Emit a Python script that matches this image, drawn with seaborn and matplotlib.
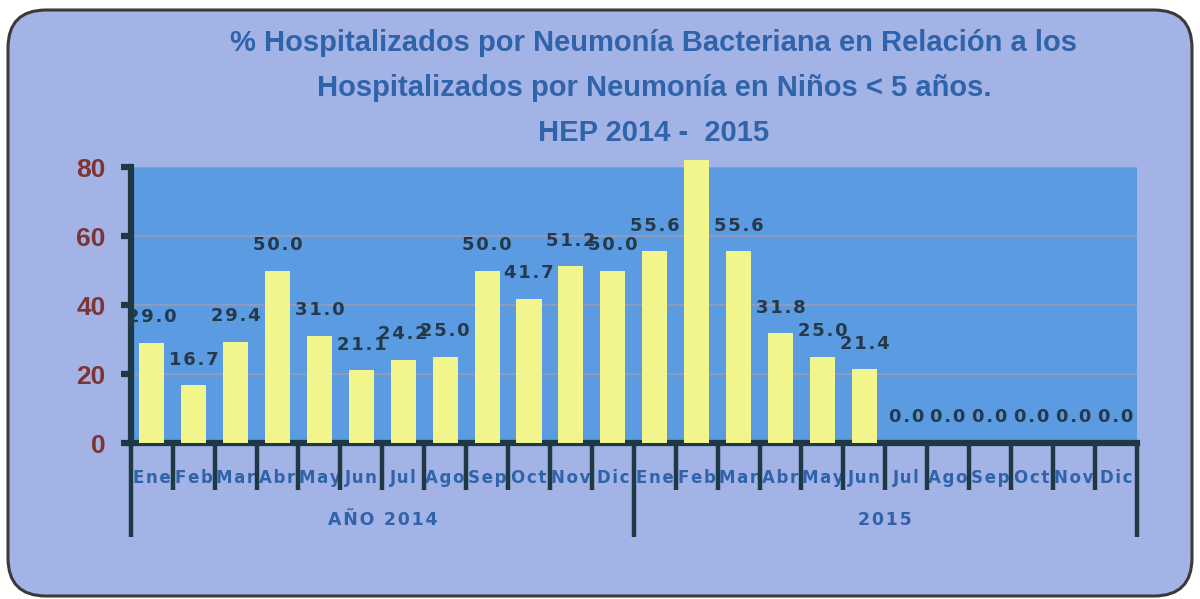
import numpy as np
import pandas as pd
import matplotlib
matplotlib.use("Agg")
import matplotlib.pyplot as plt
import matplotlib.transforms as mtransforms
from matplotlib.patches import FancyBboxPatch
import seaborn as sns

# ------------------------------------------------------------------
# Datos
# ------------------------------------------------------------------
meses = ["Ene", "Feb", "Mar", "Abr", "May", "Jun",
         "Jul", "Ago", "Sep", "Oct", "Nov", "Dic"]
anios = ["AÑO 2014", "2015"]
valores_2014 = [29.0, 16.7, 29.4, 50.0, 31.0, 21.1, 24.2, 25.0, 50.0, 41.7, 51.2, 50.0]
valores_2015 = [55.6, 82.0, 55.6, 31.8, 25.0, 21.4, 0.0, 0.0, 0.0, 0.0, 0.0, 0.0]
titulo = ["% Hospitalizados por Neumonía Bacteriana en Relación a los",
          "Hospitalizados por Neumonía en Niños < 5 años.",
          "HEP 2014 -  2015"]

df = pd.DataFrame({
    "mes": meses * 2,
    "anio": [anios[0]] * 12 + [anios[1]] * 12,
    "valor": valores_2014 + valores_2015,
})
df["clave"] = df["mes"] + " " + df["anio"]

# ------------------------------------------------------------------
# Estilo
# ------------------------------------------------------------------
sns.set_theme(style="white")
plt.rcParams["font.family"] = ["DejaVu Sans"]

FONDO = "#A4B3E6"
AZUL_PLOT = "#5A9BE2"
AMARILLO = "#F2F58C"
OSCURO = "#1E3844"
AZUL_TXT = "#2F63AA"
ROJO_TXT = "#7D3434"
SANS = ["Liberation Sans", "DejaVu Sans"]
ESPACIO = "\u200a"  # espaciado entre letras

def espaciar(txt):
    return ESPACIO.join(txt)

fig = plt.figure(figsize=(12, 5.99), dpi=100)
fig.patch.set_facecolor("white")

# marco redondeado de fondo (coordenadas en píxeles)
bg = fig.add_axes([0, 0, 1, 1], zorder=-10)
bg.set_xlim(0, 1200)
bg.set_ylim(0, 599)
bg.axis("off")
bg.add_patch(FancyBboxPatch((8, 3), 1184, 586,
                            boxstyle="round,pad=0,rounding_size=38",
                            facecolor=FONDO, edgecolor="#3A3A3A", lw=2.2))

ax = fig.add_axes([0.109, 0.2604, 0.8383, 0.4608])
ax.set_facecolor(AZUL_PLOT)

sns.barplot(data=df, x="clave", y="valor", color=AMARILLO, saturation=1,
            width=0.6, ax=ax, errorbar=None, zorder=3)
for p in ax.patches:
    p.set_clip_on(False)
    p.set_edgecolor("none")

ax.set_ylim(0, 80)
ax.set_xlim(-0.5, 23.5)
ax.set_yticks([0, 20, 40, 60, 80])
ax.yaxis.grid(True, color="#9C9CB4", lw=1.2, zorder=0)
ax.set_axisbelow(True)

# etiquetas de valor
for i, v in enumerate(df["valor"]):
    if v > 80:
        continue
    ax.annotate(espaciar(f"{v:.1f}"), (i, v), xytext=(0, 12), textcoords="offset points",
                ha="center", va="bottom", fontsize=13, fontweight="bold",
                color="#26394A", zorder=5, annotation_clip=False)

# ejes
for s in ["top", "right"]:
    ax.spines[s].set_visible(False)
for s in ["left", "bottom"]:
    ax.spines[s].set_linewidth(4.5)
    ax.spines[s].set_color(OSCURO)

ax.tick_params(axis="y", length=7, width=4.5, color=OSCURO, labelcolor=ROJO_TXT,
               labelsize=19, pad=11, left=True)
for lab in ax.get_yticklabels():
    lab.set_family(SANS)
    lab.set_fontweight("bold")

ax.set_xticks(range(24))
ax.set_xticklabels([espaciar(m) for m in df["mes"]], fontsize=12, fontweight="bold",
                   color=AZUL_TXT)
ax.tick_params(axis="x", length=0, pad=19)
ax.set_xlabel("")
ax.set_ylabel("")

# divisiones de meses y años
trans = mtransforms.blended_transform_factory(ax.transData, ax.transAxes)
for b in np.arange(-0.5, 24, 1.0):
    largo = -0.34 if b in (-0.5, 11.5, 23.5) else -0.17
    ax.plot([b, b], [0, largo], transform=trans, clip_on=False,
            color=OSCURO, lw=3.2, solid_capstyle="butt")
for k, nombre in enumerate(anios):
    ax.text(5.5 + 12 * k, -0.28, espaciar(nombre), transform=trans, ha="center",
            va="center", fontsize=12.5, fontweight="bold", color=AZUL_TXT)

# título
for linea, ypix in zip(titulo, [51, 96, 141]):
    fig.text(0.545, 1 - ypix / 599, linea, ha="center", va="baseline",
             fontsize=21, fontweight="bold", color=AZUL_TXT, family=SANS)

fig.savefig("out.png", dpi=100)
